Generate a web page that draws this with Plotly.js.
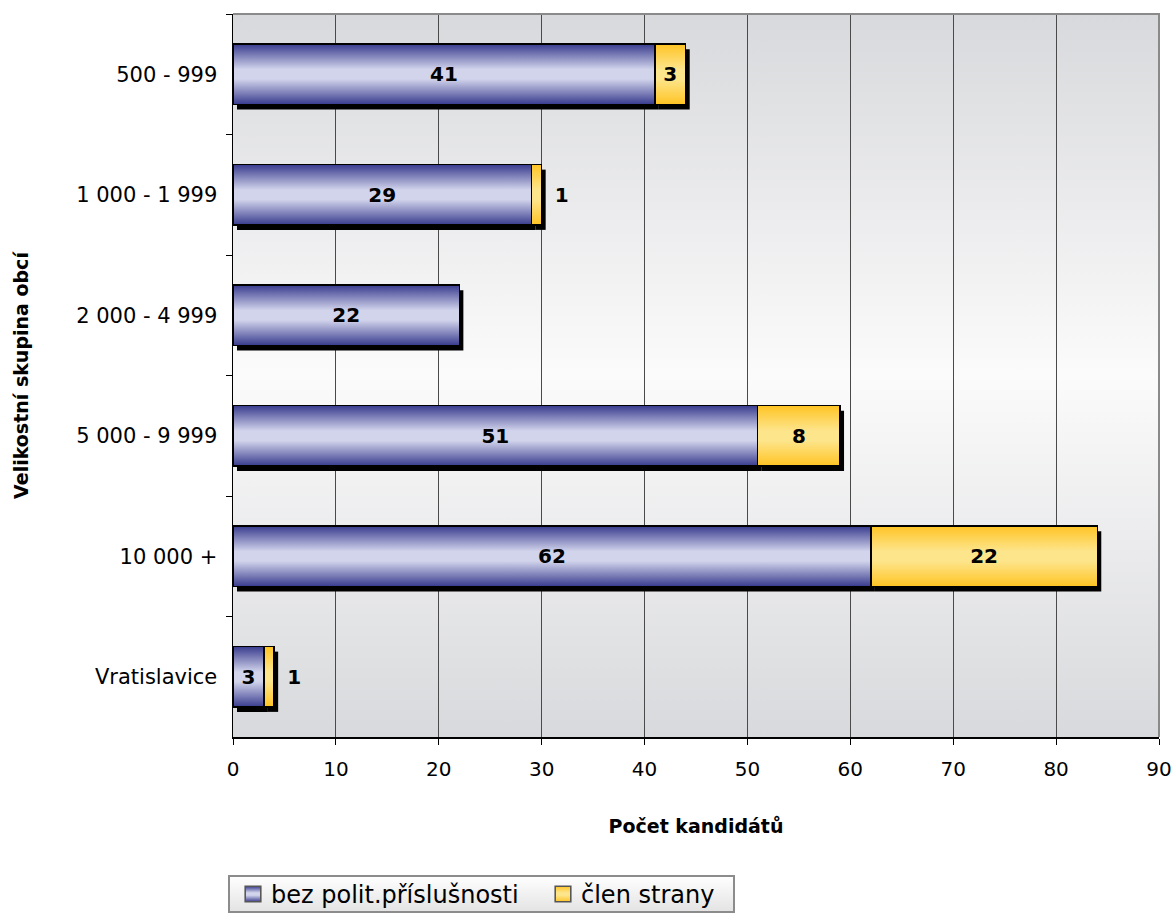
<!DOCTYPE html>
<html><head><meta charset="utf-8">
<script src="https://cdn.plot.ly/plotly-3.0.1.min.js"></script>
<style>body{margin:0;background:#fff}</style></head>
<body>
<div id="chart" style="width:1176px;height:915px"></div>
<script>
const categories = ['500 - 999', '1 000 - 1 999', '2 000 - 4 999', '5 000 - 9 999', '10 000 +', 'Vratislavice'];
const bezPolit = [41, 29, 22, 51, 62, 3];
const clenStrany = [3, 1, 0, 8, 22, 1];
const seriesNames = ['bez polit.příslušnosti', 'člen strany'];
const xTitle = 'Počet kandidátů';
const yTitle = 'Velikostní skupina obcí';

const FONT = 'DejaVu Sans, Verdana, sans-serif';
const labelFont = {family: FONT, size: 20, color: '#000', weight: 'bold'};

const data = [
  {
    type: 'bar', orientation: 'h', name: seriesNames[0],
    y: categories, x: bezPolit,
    text: bezPolit.map(v => v ? String(v) : ''),
    textposition: 'inside', insidetextanchor: 'middle',
    textfont: labelFont, insidetextfont: labelFont,
    constraintext: 'none',
    marker: {color: '#8c8fd0', line: {color: '#000', width: 1.5}},
    hoverinfo: 'skip'
  },
  {
    type: 'bar', orientation: 'h', name: seriesNames[1],
    y: categories, x: clenStrany,
    text: clenStrany.map(v => v ? String(v) : ''),
    textposition: 'auto', insidetextanchor: 'middle',
    textfont: labelFont, insidetextfont: labelFont, outsidetextfont: labelFont,
    constraintext: 'none', cliponaxis: false,
    marker: {color: '#fdd75a', line: {color: '#000', width: 1.5}},
    hoverinfo: 'skip'
  }
];

const layout = {
  width: 1176, height: 915,
  margin: {l: 233, r: 17, t: 14, b: 178, autoexpand: false},
  paper_bgcolor: '#ffffff', plot_bgcolor: '#e8e9eb',
  barmode: 'stack', bargap: 0.5,
  font: {family: FONT, color: '#000'},
  xaxis: {
    range: [0, 90], tick0: 0, dtick: 10,
    ticks: 'outside', ticklen: 6, tickcolor: '#000', tickwidth: 1,
    showline: true, linecolor: '#000', linewidth: 1.5,
    showgrid: true, gridcolor: '#4a4a4a', gridwidth: 1, zeroline: false,
    tickfont: {family: FONT, size: 20, color: '#000'},
    ticklabelstandoff: 7,
    title: {text: xTitle, font: {family: FONT, size: 19, color: '#000', weight: 'bold'}, standoff: 40},
    automargin: false
  },
  yaxis: {
    type: 'category', categoryorder: 'array', categoryarray: categories,
    autorange: 'reversed',
    ticks: 'outside', tickson: 'boundaries', ticklen: 6, tickcolor: '#000', tickwidth: 1,
    showline: true, linecolor: '#000', linewidth: 1.5, showgrid: false, zeroline: false,
    tickfont: {family: FONT, size: 21, color: '#000'},
    ticklabelstandoff: 10,
    title: {text: yTitle, font: {family: FONT, size: 19, color: '#000', weight: 'bold'}, standoff: 42},
    automargin: false
  },
  showlegend: true,
  legend: {
    orientation: 'h', x: -0.006, xanchor: 'left', y: -0.183, yanchor: 'top',
    font: {family: FONT, size: 24, color: '#000'},
    bgcolor: '#f2f2f2', bordercolor: '#8c8c8c', borderwidth: 2,
    traceorder: 'normal'
  },
  shapes: [{
    type: 'path', xref: 'paper', yref: 'paper', path: 'M0,1 L1,1 L1,0',
    line: {color: '#8a8a8a', width: 2}, layer: 'above'
  }]
};

function decorate(gd) {
  const NS = 'http://www.w3.org/2000/svg';
  const svg = gd.querySelector('svg.main-svg');
  let defs = svg.querySelector('defs');
  if (!defs) { defs = document.createElementNS(NS, 'defs'); svg.insertBefore(defs, svg.firstChild); }
  function grad(id, stops) {
    const g = document.createElementNS(NS, 'linearGradient');
    g.setAttribute('id', id);
    g.setAttribute('x1', '0'); g.setAttribute('y1', '0');
    g.setAttribute('x2', '0'); g.setAttribute('y2', '1');
    stops.forEach(s => {
      const st = document.createElementNS(NS, 'stop');
      st.setAttribute('offset', s[0]); st.setAttribute('stop-color', s[1]);
      g.appendChild(st);
    });
    defs.appendChild(g);
  }
  grad('gBlue', [[0, '#393c8e'], [0.42, '#d2d4ec'], [0.58, '#d2d4ec'], [1, '#393c8e']]);
  grad('gYellow', [[0, '#ffc424'], [0.42, '#fde58c'], [0.58, '#fde58c'], [1, '#ffc424']]);
  grad('gBg', [[0, '#d8d9dc'], [0.5, '#fbfbfb'], [1, '#d8d9dc']]);
  grad('gLeg', [[0, '#ffffff'], [1, '#e3e3e3']]);

  const bg = gd.querySelector('.bglayer rect.bg');
  if (bg) bg.style.fill = 'url(#gBg)';

  const fills = ['url(#gBlue)', 'url(#gYellow)'];
  const barlayer = gd.querySelector('.barlayer');
  const traces = barlayer.querySelectorAll(':scope > .trace');
  const shadowG = document.createElementNS(NS, 'g');
  barlayer.insertBefore(shadowG, barlayer.firstChild);
  traces.forEach((tr, ti) => {
    tr.querySelectorAll('.point').forEach(pt => {
      const p = pt.querySelector('path');
      if (!p) return;
      const d = p.getAttribute('d');
      if (d && d !== 'M0,0Z') {
        p.style.fill = fills[ti];
        const c = p.cloneNode(false);
        c.style.fill = '#000'; c.style.stroke = 'none';
        c.setAttribute('transform', 'translate(4,5)');
        shadowG.appendChild(c);
      }
      const t = pt.querySelector('text');
      if (t && t.textContent) {
        const pb = p.getBoundingClientRect(), tb = t.getBoundingClientRect();
        if (tb.left >= pb.right - 1) {
          t.setAttribute('transform', 'translate(10,0) ' + (t.getAttribute('transform') || ''));
        }
      }
    });
  });

  // legend styling and placement
  const leg = gd.querySelector('.legend');
  if (!leg) return;
  const sb = leg.querySelector('.scrollbox');
  if (sb) sb.removeAttribute('clip-path');
  const lbg = leg.querySelector('rect.bg');
  const symC = [253, 563], textGap = 18, midY = 894;
  leg.querySelectorAll('.traces').forEach((tr, i) => {
    const sym = tr.querySelector('.legendpoints path');
    const txt = tr.querySelector('text.legendtext');
    if (!sym) return;
    sym.style.fill = fills[i]; sym.style.stroke = '#555'; sym.style.strokeWidth = '1.2px';
    sym.setAttribute('transform', (sym.getAttribute('transform') || '') + ' scale(1.3)');
    let sr = sym.getBoundingClientRect();
    const dx = symC[i] - (sr.left + sr.right) / 2;
    const dy = midY - (sr.top + sr.bottom) / 2;
    tr.setAttribute('transform', 'translate(' + dx + ',' + dy + ') ' + (tr.getAttribute('transform') || ''));
    if (txt) {
      const tb = txt.getBoundingClientRect();
      const tdx = (symC[i] + textGap) - tb.left;
      txt.setAttribute('transform', 'translate(' + tdx + ',0) ' + (txt.getAttribute('transform') || ''));
    }
  });
  if (lbg) {
    lbg.style.fill = 'url(#gLeg)';
    const rb = lbg.getBoundingClientRect();
    const x = parseFloat(lbg.getAttribute('x') || 0), y = parseFloat(lbg.getAttribute('y') || 0);
    lbg.setAttribute('x', x + (229 - rb.left));
    lbg.setAttribute('y', y + (876 - rb.top));
    lbg.setAttribute('width', 505);
    lbg.setAttribute('height', 36);
  }
}

Plotly.newPlot('chart', data, layout, {staticPlot: true, displayModeBar: false}).then(decorate);
</script>
</body></html>
